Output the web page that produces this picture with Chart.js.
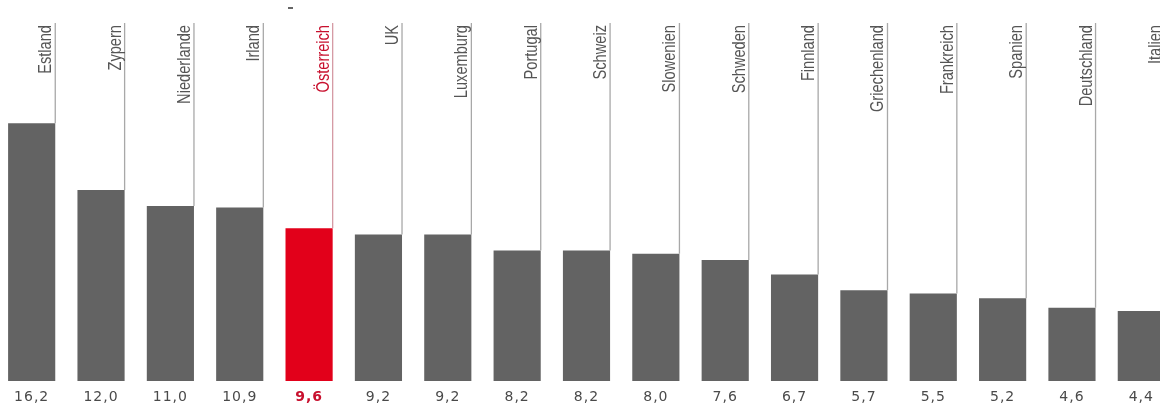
<!DOCTYPE html>
<html>
<head>
<meta charset="utf-8">
<script src="https://cdn.jsdelivr.net/npm/chart.js@4/dist/chart.umd.min.js"></script>
<style>
  html, body { margin: 0; padding: 0; background: #fff; overflow: hidden; }
  #wrap { position: absolute; left: -3px; top: 0; width: 1179px; height: 407px; }
</style>
</head>
<body>
<div id="wrap"><canvas id="bars"></canvas></div>
<script>
const countries = ['Estland', 'Zypern', 'Niederlande', 'Irland', 'Österreich', 'UK', 'Luxemburg', 'Portugal',
  'Schweiz', 'Slowenien', 'Schweden', 'Finnland', 'Griechenland', 'Frankreich', 'Spanien', 'Deutschland', 'Italien'];
const values = [16.2, 12.0, 11.0, 10.9, 9.6, 9.2, 9.2, 8.2, 8.2, 8.0, 7.6, 6.7, 5.7, 5.5, 5.2, 4.6, 4.4];
const highlight = 'Österreich';

const grey = '#636363';
const red = '#e2001a';

// labels, guide lines and values drawn on top of the bars
const labelPlugin = {
  id: 'labels',
  afterDatasetsDraw(chart) {
    const ctx = chart.ctx;
    const top = chart.chartArea.top;
    const bars = chart.getDatasetMeta(0).data;
    bars.forEach((bar, i) => {
      const hot = countries[i] === highlight;
      const right = bar.x + bar.width / 2;

      ctx.save();
      ctx.strokeStyle = hot ? '#d59aa4' : '#a8a8a8';
      ctx.lineWidth = 1.3;
      ctx.beginPath();
      ctx.moveTo(right, top);
      ctx.lineTo(right, bar.y);
      ctx.stroke();

      // country name, rotated, reading upward
      ctx.translate(right - 4, top + 2);
      ctx.rotate(-Math.PI / 2);
      ctx.scale(0.77, 1);
      ctx.font = '19px "Liberation Sans", Arial, sans-serif';
      ctx.fillStyle = hot ? '#c8102e' : '#555';
      ctx.textAlign = 'right';
      ctx.textBaseline = 'alphabetic';
      ctx.fillText(countries[i], 0, 0);
      ctx.restore();

      // value under the bar
      ctx.save();
      ctx.font = (hot ? 'bold ' : '') + '14px "DejaVu Sans", sans-serif';
      ctx.fillStyle = hot ? '#c8102e' : '#4a4a4a';
      ctx.textAlign = 'center';
      ctx.textBaseline = 'middle';
      ctx.letterSpacing = '1px';
      ctx.fillText(values[i].toFixed(1).replace('.', ','), bar.x, 397);
      ctx.restore();
    });

    // small stray mark at the top
    ctx.save();
    ctx.strokeStyle = '#333';
    ctx.lineWidth = 1.5;
    ctx.beginPath();
    ctx.moveTo(291, 8);
    ctx.lineTo(296, 8);
    ctx.stroke();
    ctx.restore();
  }
};

new Chart(document.getElementById('bars'), {
  type: 'bar',
  data: {
    labels: countries,
    datasets: [{
      data: values,
      backgroundColor: countries.map(c => c === highlight ? red : grey),
      barPercentage: 0.68,
      categoryPercentage: 1.0
    }]
  },
  plugins: [labelPlugin],
  options: {
    responsive: true,
    maintainAspectRatio: false,
    animation: false,
    layout: {
      padding: { top: 23, bottom: 26, left: 0, right: 0 }
    },
    plugins: {
      legend: { display: false },
      tooltip: { enabled: false }
    },
    scales: {
      x: { display: false },
      y: { display: false, min: 0, max: 22.5 }
    }
  }
});
</script>
</body>
</html>
